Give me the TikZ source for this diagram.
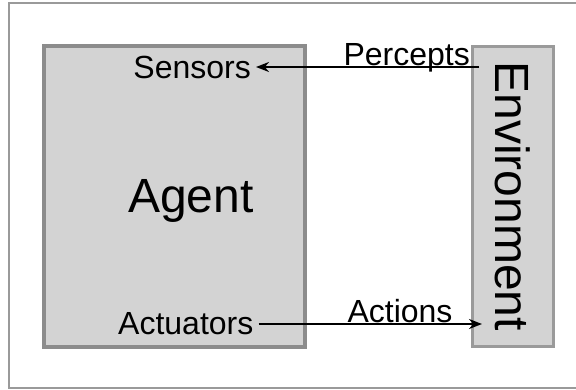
\documentclass[tikz,border=0pt]{standalone}
\usepackage{fontspec}
\setmainfont{Liberation Sans}
\usetikzlibrary{arrows.meta,positioning}
\definecolor{boxfill}{HTML}{D3D3D3}
\definecolor{boxline}{HTML}{8C8C8C}
\definecolor{frameline}{HTML}{9A9A9A}
\begin{document}
\begin{tikzpicture}[x=1pt,y=-1pt,
		block/.style={draw=boxline,fill=boxfill,inner sep=0pt,anchor=north west},
		lbl/.style={font=\fontsize{32}{36}\selectfont,inner sep=5pt},
		big/.style={font=\fontsize{48}{54}\selectfont,inner sep=0pt},
		arr/.style={-{Stealth[length=13pt,width=10pt]},line width=2pt}]
				\useasboundingbox (0,0) rectangle (576,389);
				\draw[frameline,line width=2pt] (9,3) rectangle (600,388);
				
				\node[block,line width=4pt,minimum width=261pt,minimum height=301pt] (agent) at (42,44) {};
				\node[block,line width=2.5pt,draw=frameline,minimum width=81pt,minimum height=300pt] (env) at (471,45) {};
				
				\node[big,anchor=base] (agentlbl) at (191,212) {Agent};
				\node[big,rotate=-90] (envlbl) at (env.center) {Environment};
				
				\node[lbl,anchor=east] (sensors) at (256,67) {Sensors};
				\node[lbl,anchor=west] (actuators) at (113,324) {Actuators};
				
				\coordinate[xshift=8pt] (pin) at (env.west |- sensors.east);
				\coordinate[xshift=11pt] (pout) at (env.west |- actuators.east);
				
				\draw[arr] (pin) -- (sensors.east);
				\draw[arr] (actuators.east) -- (pout);
				
				\node[lbl,anchor=base east,inner sep=0pt] (percepts) at (470,65) {Percepts};
				\node[lbl,anchor=base,inner sep=0pt] (actions) at (400,322) {Actions};
			\end{tikzpicture}
\end{document}
